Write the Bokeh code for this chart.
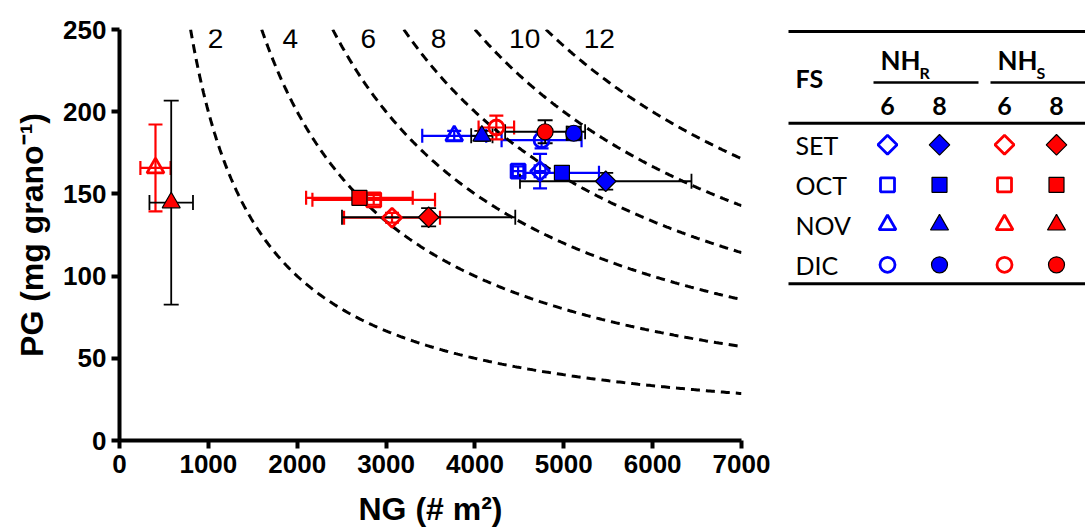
import numpy as np
from bokeh.plotting import figure
from bokeh.models import Range1d, Whisker, ColumnDataSource, TeeHead, FixedTicker
from bokeh.layouts import row
from bokeh.core.properties import value
from bokeh.embed import file_html
from bokeh.resources import INLINE

# ---------------- data ----------------
months = ["SET", "OCT", "NOV", "DIC"]
shapes = ["diamond", "square", "triangle", "circle"]

# NH_R, 6
nhr6_ng = [4733, 4486, 3767, 4750]
nhr6_pg = [163.8, 163.8, 185.3, 182.7]
nhr6_ng_err = [60, 60, 360, 450]
nhr6_pg_err = [10.5, 3, 3, 5]
# NH_R, 8
nhr8_ng = [5472, 4979, 4078, 5112]
nhr8_pg = [157.7, 162.8, 185.3, 186.9]
nhr8_ng_err = [965, 417, 120, 80]
nhr8_pg_err = [5.1, 3, 3, 4]
# NH_S, 6
nhs6_ng = [3067, 2861, 405, 4241]
nhs6_pg = [135.5, 146.4, 165.8, 190.4]
nhs6_ng_err = [540, 690, 170, 200]
nhs6_pg_err = [3, 3, 26.4, 7.2]
# NH_S, 8
nhs8_ng = [3479, 2700, 582, 4790]
nhs8_pg = [135.8, 147.6, 144.7, 187.8]
nhs8_ng_err = [975, 600, 245, 450]
nhs8_pg_err = [5.6, 3, 62, 7]

yield_levels = [2, 4, 6, 8, 10, 12]
curve_label_ng = [1080, 1923, 2800, 3590, 4560, 5400]
curve_label_pg = 244.5

x_ticks = [0, 1000, 2000, 3000, 4000, 5000, 6000, 7000]
y_ticks = [0, 50, 100, 150, 200, 250]

BLUE = "#0000FF"
RED = "#FF0000"
BLACK = "#000000"

groups = [
    dict(ng=nhr6_ng, pg=nhr6_pg, xe=nhr6_ng_err, ye=nhr6_pg_err, color=BLUE, filled=False,
         bar=[BLUE, BLUE, BLUE, BLUE]),
    dict(ng=nhr8_ng, pg=nhr8_pg, xe=nhr8_ng_err, ye=nhr8_pg_err, color=BLUE, filled=True,
         bar=[BLACK, BLUE, BLACK, BLACK]),
    dict(ng=nhs6_ng, pg=nhs6_pg, xe=nhs6_ng_err, ye=nhs6_pg_err, color=RED, filled=False,
         bar=[RED, RED, RED, RED]),
    dict(ng=nhs8_ng, pg=nhs8_pg, xe=nhs8_ng_err, ye=nhs8_pg_err, color=RED, filled=True,
         bar=[BLACK, RED, BLACK, BLACK]),
]

MARKER = {
    "diamond": dict(marker="square", angle=np.pi / 4, size=13.5),
    "square": dict(marker="square", angle=0, size=14),
    "triangle": dict(marker="triangle", angle=0, size=17),
    "circle": dict(marker="circle", angle=0, size=15),
}

TOP, BOTTOM = 29, 89

# ---------------- main plot ----------------
p = figure(width=770, height=529, x_range=Range1d(0, 7000), y_range=Range1d(0, 250),
           output_backend="svg", toolbar_location=None,
           min_border_left=119, min_border_right=29, min_border_top=TOP, min_border_bottom=BOTTOM)
p.outline_line_color = None
p.grid.visible = False
p.background_fill_color = "white"
p.border_fill_color = "white"

p.xaxis.ticker = FixedTicker(ticks=x_ticks)
p.yaxis.ticker = FixedTicker(ticks=y_ticks)
for ax in (p.xaxis, p.yaxis):
    ax.axis_line_width = 4
    ax.major_tick_line_width = 4
    ax.major_tick_out = 8
    ax.major_tick_in = 0
    ax.minor_tick_line_color = None
    ax.major_label_text_font = "Liberation Sans"
    ax.major_label_text_font_size = "26px"
    ax.major_label_text_font_style = "bold"
    ax.major_label_text_color = "black"
    ax.axis_label_text_font = "Liberation Sans"
    ax.axis_label_text_font_size = "32px"
    ax.axis_label_text_font_style = "bold"
    ax.axis_label_text_color = "black"
p.xaxis.major_label_standoff = 6
p.yaxis.major_label_standoff = 5
p.xaxis.axis_label = "NG (# m²)"
p.yaxis.axis_label = "PG (mg grano⁻¹)"
p.xaxis.axis_label_standoff = 15
p.yaxis.axis_label_standoff = 10

# iso-yield dashed curves
for Y in yield_levels:
    ng = np.linspace(Y * 1e5 / 250, 7000, 300)
    p.line(ng, Y * 1e5 / ng, line_color="black", line_width=3, line_dash="9 6")
p.text(x=curve_label_ng, y=[curve_label_pg] * len(yield_levels),
       text=[str(v) for v in yield_levels], text_font=value("Liberation Sans"),
       text_font_size="28px", text_align="center", text_baseline="middle", text_color="black")

# error bars
for g in groups:
    for i in range(4):
        c = g["bar"][i]
        src = ColumnDataSource(dict(
            x=[g["ng"][i]], y=[g["pg"][i]],
            xl=[g["ng"][i] - g["xe"][i]], xu=[g["ng"][i] + g["xe"][i]],
            yl=[g["pg"][i] - g["ye"][i]], yu=[g["pg"][i] + g["ye"][i]]))
        lw = 1.8 if c == BLACK else 2.2
        hs = 15 if c == BLACK else 14
        for dim, base, lo, up in (("width", "y", "xl", "xu"), ("height", "x", "yl", "yu")):
            w = Whisker(source=src, base=base, lower=lo, upper=up, dimension=dim,
                        line_color=c, line_width=lw, level="underlay",
                        lower_head=TeeHead(size=hs, line_color=c, line_width=lw),
                        upper_head=TeeHead(size=hs, line_color=c, line_width=lw))
            p.add_layout(w)

# markers
for g in groups:
    for i, shp in enumerate(shapes):
        m = MARKER[shp]
        if g["filled"]:
            p.scatter([g["ng"][i]], [g["pg"][i]], marker=m["marker"], angle=m["angle"],
                      size=m["size"] + 1, fill_color=g["color"], line_color="black", line_width=1.2)
        else:
            p.scatter([g["ng"][i]], [g["pg"][i]], marker=m["marker"], angle=m["angle"],
                      size=m["size"], fill_color=None, line_color=g["color"], line_width=2.8)

# ---------------- legend table ----------------
# frame of this figure spans screen y TOP..(529-BOTTOM), so data y == screen y
OX = 770
t = figure(width=315, height=529, x_range=Range1d(0, 315), y_range=Range1d(529 - BOTTOM, TOP),
           output_backend="svg", toolbar_location=None,
           min_border_left=0, min_border_right=0, min_border_top=TOP, min_border_bottom=BOTTOM)
t.axis.visible = False
t.grid.visible = False
t.outline_line_color = None
t.background_fill_color = "white"
t.border_fill_color = "white"

def X(gx):
    return gx - OX

# rules
t.segment(x0=[X(788), X(788), X(788)], y0=[31, 122.7, 283.3],
          x1=[X(1085), X(1085), X(1085)], y1=[31, 122.7, 283.3], line_color="black", line_width=3)
t.segment(x0=[X(873), X(990)], y0=[82, 82], x1=[X(978), X(1085)], y1=[82, 82],
          line_color="black", line_width=2.5)

FONT = value("Lato")
t.text(x=[X(795)], y=[77.2], text=["FS"], text_font=FONT, text_font_style="bold",
       text_font_size="25px", text_baseline="middle", text_color="black")
t.text(x=[X(880), X(997)], y=[59.7, 59.7], text=["NH", "NH"], text_font=FONT, text_font_style="bold",
       text_font_size="26px", text_baseline="middle", text_color="black")
t.text(x=[X(919), X(1036)], y=[71.5, 71.5], text=["R", "S"], text_font=FONT, text_font_style="bold",
       text_font_size="16px", text_baseline="middle", text_color="black")
col_x = [X(887), X(939), X(1004), X(1056)]
t.text(x=col_x, y=[105.2] * 4, text=["6", "8", "6", "8"], text_font=FONT, text_font_style="bold",
       text_font_size="25px", text_align="center", text_baseline="middle", text_color="black")
row_mid = [144.3, 184.3, 224.3, 264.3]
t.text(x=[X(795)] * 4, y=row_mid, text=months, text_font=FONT,
       text_font_size="25px", text_baseline="middle", text_color="black")

for j, g in enumerate(groups):
    for i, shp in enumerate(shapes):
        m = MARKER[shp]
        yy = row_mid[i]
        if g["filled"]:
            t.scatter([col_x[j]], [yy], marker=m["marker"], angle=m["angle"],
                      size=m["size"] + 1, fill_color=g["color"], line_color="black", line_width=1.2)
        else:
            t.scatter([col_x[j]], [yy], marker=m["marker"], angle=m["angle"],
                      size=m["size"], fill_color=None, line_color=g["color"], line_width=2.8)

layout = row(p, t, spacing=0)
open("out.html", "w").write(file_html(layout, INLINE))
